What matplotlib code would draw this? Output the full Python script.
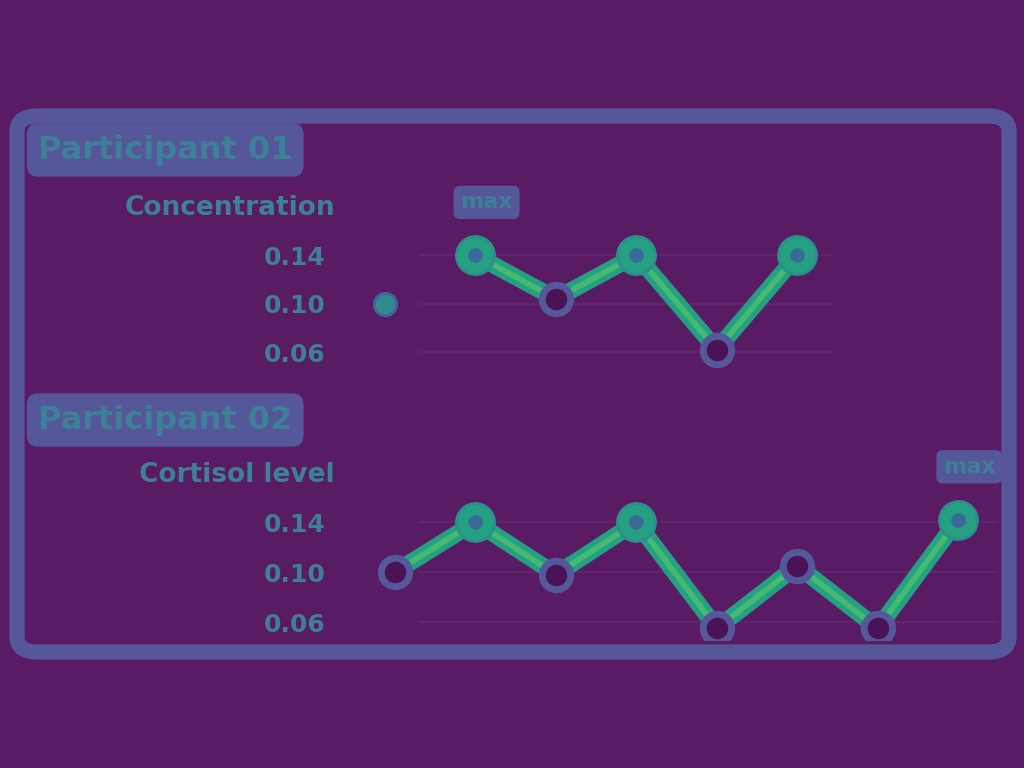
import matplotlib
matplotlib.use("Agg")
import matplotlib.pyplot as plt
from matplotlib.patches import FancyBboxPatch

# ---- data ----
time_points = [0, 1, 2, 3, 4, 5, 6, 7]
p1_times = [1, 2, 3, 4, 5]
p1_values = [0.140, 0.104, 0.140, 0.062, 0.140]
p1_baseline_time = [-0.12]
p1_baseline = [0.100]
p2_times = [0, 1, 2, 3, 4, 5, 6, 7]
p2_values = [0.100, 0.140, 0.098, 0.140, 0.055, 0.105, 0.055, 0.142]
yticks = [0.06, 0.10, 0.14]
ytick_labels = ["0.06", "0.10", "0.14"]
titles = ["Participant 01", "Participant 02"]
ylabels = ["Concentration", "Cortisol level"]
annotations = ["max", "max"]

BG = "#581b64"
FRAME = "#56569a"
TEXT = "#3d8098"
LINE = "#25a082"
CORE = "#4cc26c"
GRID = "#62246f"

fig = plt.figure(figsize=(10.24, 7.68), dpi=100, facecolor=BG)
W, H = 1024, 768

def fx(px):
    return px / W

def fy(py):
    return 1 - py / H

frame = FancyBboxPatch((fx(17), fy(652)), fx(992), fy(116) - fy(652),
                       boxstyle="round,pad=0,rounding_size=0.02",
                       transform=fig.transFigure, facecolor="none",
                       edgecolor=FRAME, linewidth=11, zorder=0)
fig.patches.append(frame)

panels = [
    dict(xs=p1_times, vals=p1_values, top=185, bottom=375,
         ylim=(0.041, 0.198), title_y=150, ylabel_y=208, ann_idx=0,
         grid_end=5.45),
    dict(xs=p2_times, vals=p2_values, top=455, bottom=640,
         ylim=(0.0456, 0.1936), title_y=420, ylabel_y=475, ann_idx=7,
         grid_end=7.5),
]

for i, p in enumerate(panels):
    left, right = 360, 1000
    ax = fig.add_axes([fx(left), fy(p["bottom"]), fx(right - left),
                       fy(p["top"]) - fy(p["bottom"])])
    ax.set_facecolor(BG)
    for s in ax.spines.values():
        s.set_visible(False)
    ax.set_xlim(-0.435, 7.52)
    ax.set_ylim(*p["ylim"])
    xs = p["xs"]
    vals = p["vals"]
    n = len(vals)
    for yv in yticks:
        ax.hlines(yv, 0.3, p["grid_end"], color=GRID, lw=1.5, zorder=1)
    ax.plot(xs, vals, color=LINE, lw=12, solid_capstyle="round",
            solid_joinstyle="round", zorder=2)
    ax.plot(xs, vals, color=CORE, lw=4, solid_capstyle="round",
            solid_joinstyle="round", zorder=3, alpha=0.8)
    peaks = [j for j in range(n) if vals[j] >= 0.13]
    troughs = [j for j in range(n) if vals[j] < 0.13]
    ax.scatter([xs[j] for j in peaks], [vals[j] for j in peaks],
               s=750, color=LINE, edgecolor="#2b8f8a", linewidth=2, zorder=4)
    ax.scatter([xs[j] for j in peaks], [vals[j] for j in peaks],
               s=90, color="#3a6a98", zorder=5)
    ax.scatter([xs[j] for j in troughs], [vals[j] for j in troughs],
               s=420, color="#4a1358", edgecolor="#55589a", linewidth=5,
               zorder=5)
    if i == 0:
        ax.scatter(p1_baseline_time, p1_baseline, s=260, color="#2f8a92",
                   edgecolor="#46629a", linewidth=2, zorder=5)
    ax.set_yticks(yticks)
    ax.set_yticklabels(ytick_labels, color=TEXT, fontsize=18,
                       fontweight="bold")
    ax.tick_params(axis="y", length=0, pad=25)
    ax.set_xticks([])
    a = p["ann_idx"]
    ax.annotate(annotations[i], (xs[a], vals[a]), xytext=(8, 38),
                textcoords="offset points", ha="center", va="center",
                color=TEXT, fontsize=16, fontweight="bold",
                bbox=dict(boxstyle="round,pad=0.3", fc=FRAME, ec="none"))
    fig.text(fx(38), fy(p["title_y"]), titles[i], ha="left", va="center",
             color=TEXT, fontsize=23, fontweight="bold",
             bbox=dict(boxstyle="round,pad=0.35", fc=FRAME, ec="none"))
    fig.text(fx(335), fy(p["ylabel_y"]), ylabels[i], ha="right",
             va="center", color=TEXT, fontsize=19, fontweight="bold")

fig.savefig("out.png", dpi=100, facecolor=BG)
